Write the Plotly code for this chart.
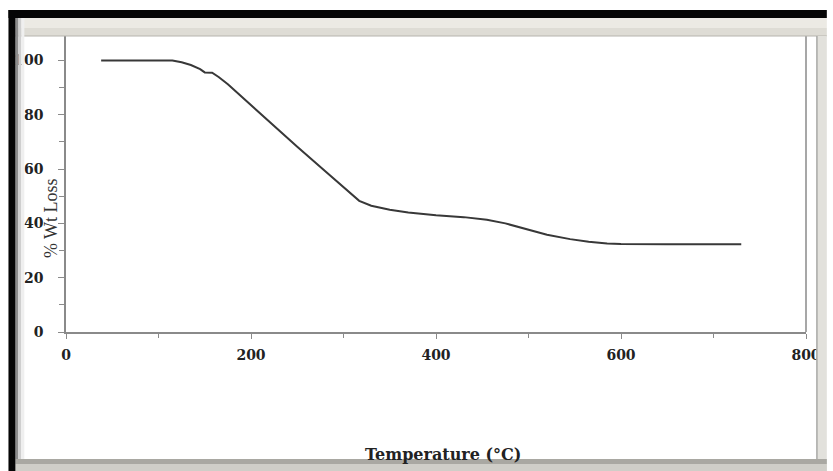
import plotly.graph_objects as go

# Data
temperature = [38, 60, 100, 115, 125, 135, 145, 150, 158, 165, 175, 190, 220, 250, 280, 300, 317,
               330, 350, 370, 400, 430, 455, 475, 500, 520, 545, 565, 585, 600, 650, 700, 730]
wt_loss = [100, 100, 100, 100, 99.3, 98.3, 96.8, 95.6, 95.5, 93.9, 91.2, 86.6, 77.3, 68.2, 59.3, 53.3, 48.3,
           46.5, 45.0, 44.0, 43.0, 42.3, 41.3, 40.0, 37.6, 35.8, 34.2, 33.2, 32.6, 32.4, 32.3, 32.3, 32.3]

x_ticks = [0, 200, 400, 600, 800]
x_tick_labels = ["0", "200", "400", "600", "800"]
y_ticks = [0, 20, 40, 60, 80, 100]
y_tick_labels = ["0", "20", "40", "60", "80", "100"]

W, H = 833, 471
L, R, T, B = 66, 21, 36, 139
pw, ph = W - L - R, H - T - B


def px(x):
    return (x - L) / pw


def py(y):
    return (H - B - y) / ph


fig = go.Figure()
fig.add_trace(go.Scatter(x=temperature, y=wt_loss, mode="lines",
                         line=dict(color="#383838", width=2), hoverinfo="skip"))

tickfont = dict(family="DejaVu Serif", size=14, color="#222222")
fig.update_xaxes(range=[0, 800], tickvals=x_ticks, ticktext=["<b>%s</b>" % t for t in x_tick_labels],
                 showgrid=False, zeroline=False, showline=True, linecolor="#8a8a8a", linewidth=1.5,
                 ticks="outside", ticklen=5, tickcolor="#8a8a8a", tickwidth=1.2,
                 minor=dict(dtick=100, ticks="outside", ticklen=4, tickcolor="#8a8a8a"),
                 tickfont=tickfont, ticklabelstandoff=4)
fig.update_yaxes(range=[0, 109], tickvals=y_ticks, ticktext=["<b>%s</b>" % t for t in y_tick_labels],
                 showgrid=False, zeroline=False, showline=True, linecolor="#8a8a8a", linewidth=1.5,
                 ticks="outside", ticklen=6, tickcolor="#8a8a8a", tickwidth=1.2,
                 minor=dict(dtick=10, ticks="outside", ticklen=5, tickcolor="#8a8a8a"),
                 tickfont=tickfont, ticklabelstandoff=12)

shapes = []


def rect(x0, y0, x1, y1, color):
    shapes.append(dict(type="rect", xref="paper", yref="paper",
                       x0=px(x0), x1=px(x1), y0=py(y0), y1=py(y1),
                       fillcolor=color, line=dict(width=0), layer="above"))


def vline(x, y0, y1, color, w=1.2):
    shapes.append(dict(type="line", xref="paper", yref="paper",
                       x0=px(x), x1=px(x), y0=py(y0), y1=py(y1),
                       line=dict(color=color, width=w), layer="above"))


def hline(y, x0, x1, color, w=1.2):
    shapes.append(dict(type="line", xref="paper", yref="paper",
                       x0=px(x0), x1=px(x1), y0=py(y), y1=py(y),
                       line=dict(color=color, width=w), layer="above"))


# plot-area right border
vline(812, 36, 332, "#8a8a8a", 1.5)
# grey title bar at top
rect(15, 18, 833, 28, "#eceae4")
rect(15, 28, 833, 36, "#dedcd5")
hline(36, 15, 833, "#b5b4ad", 1.2)
# right grey strip
rect(823, 36, 833, 471, "#e2e1dc")
vline(823, 36, 462, "#a9a9a6", 1.5)
# bottom bar
rect(15, 459, 833, 464, "#a9a8a2")
rect(15, 464, 833, 471, "#cfcec8")
# left shadow and black border
rect(15, 18, 18, 459, "#8c8c8c")
rect(18, 18, 21, 459, "#cfcfcf")
rect(21, 18, 24, 459, "#efefef")
rect(8, 10, 15, 471, "#050505")
# top black band
rect(8, 10, 833, 18, "#050505")

annotations = [
    dict(text="% Wt Loss", xref="paper", yref="paper", x=px(51), y=py(218),
         showarrow=False, textangle=-90, xanchor="center", yanchor="middle",
         font=dict(family="Liberation Serif", size=18, color="#333333")),
    dict(text="<b>Temperature (°C)</b>", xref="paper", yref="paper", x=px(446), y=py(454),
         showarrow=False, xanchor="center", yanchor="middle",
         font=dict(family="DejaVu Serif", size=16, color="#222222")),
]

fig.update_layout(width=W, height=H, margin=dict(l=L, r=R, t=T, b=B),
                  paper_bgcolor="white", plot_bgcolor="white", showlegend=False,
                  shapes=shapes, annotations=annotations)

fig.write_html("out.html")
